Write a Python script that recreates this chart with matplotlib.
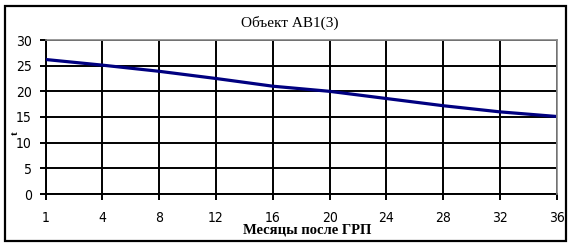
import matplotlib
matplotlib.use('Agg')
import matplotlib.pyplot as plt
from matplotlib.patches import Rectangle

# Данные
months = ['1', '4', '8', '12', '16', '20', '24', '28', '32', '36']
values = [26.2, 25.1, 23.9, 22.5, 21.0, 20.0, 18.6, 17.2, 16.0, 15.1]
y_ticks = [0, 5, 10, 15, 20, 25, 30]

tick_font = ['DejaVu Sans']
serif_font = ['Liberation Serif', 'DejaVu Serif']

fig = plt.figure(figsize=(5.76, 2.52), dpi=100)
ax = fig.add_axes([45.7 / 576, 1 - 194 / 252, (556.7 - 45.7) / 576, (194 - 40) / 252])

x = list(range(len(months)))
ax.plot(x, values, color='#000080', linewidth=2.3, zorder=3)

ax.set_xlim(0, len(months) - 1)
ax.set_ylim(0, 30)
ax.set_xticks(x)
ax.set_xticklabels(months, fontfamily=tick_font, fontsize=10, fontstretch='condensed')
ax.set_yticks(y_ticks)
ax.set_yticklabels([str(v) for v in y_ticks], fontfamily=tick_font, fontsize=10,
                   fontstretch='condensed')
ax.tick_params(axis='y', direction='out', length=4, width=1.4, pad=6)
ax.tick_params(axis='x', direction='out', length=4, width=1.4, pad=8)

ax.grid(True, color='black', linewidth=1.4, zorder=1)
ax.set_axisbelow(True)
for side in ['left', 'bottom']:
    ax.spines[side].set_color('black')
    ax.spines[side].set_linewidth(1.4)
for side in ['top', 'right']:
    ax.spines[side].set_color('#888888')
    ax.spines[side].set_linewidth(1.2)
    ax.spines[side].set_zorder(4)

fig.text(290 / 576, 1 - 23 / 252, 'Объект АВ1(3)', ha='center', va='center',
         fontfamily=serif_font, fontsize=11)
fig.text(307 / 576, 1 - 230 / 252, 'Месяцы после ГРП', ha='center', va='center',
         fontfamily=serif_font, fontsize=10.5, fontweight='bold')
fig.text(15 / 576, 1 - 133 / 252, 't', ha='center', va='center', rotation=90,
         fontfamily=serif_font, fontsize=8, fontweight='bold')

# рамка вокруг всей диаграммы
fig.patches.append(Rectangle((4.5 / 576, 1 - 241 / 252), (566 - 4.5) / 576, (241 - 5.5) / 252,
                             transform=fig.transFigure, fill=False, edgecolor='black',
                             linewidth=1.6))

fig.savefig('out.png', dpi=100)
